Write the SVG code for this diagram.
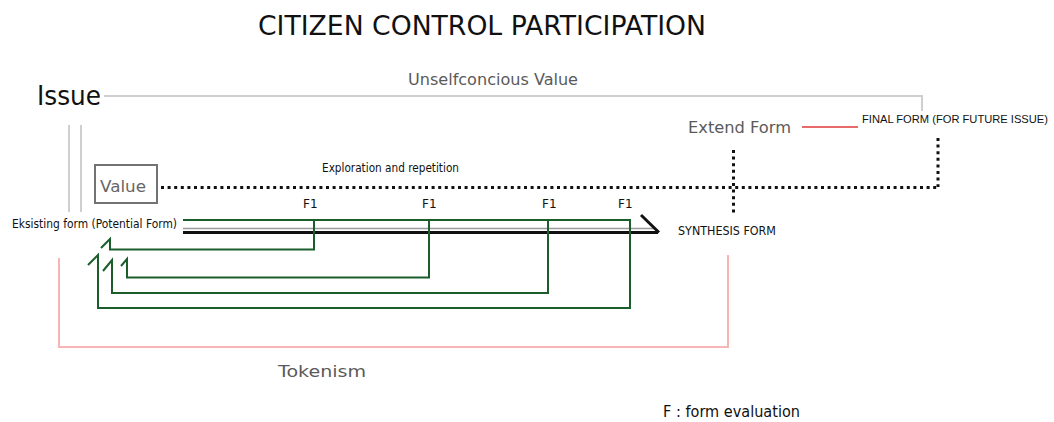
<svg xmlns="http://www.w3.org/2000/svg" width="1054" height="422" viewBox="0 0 1054 422">
  <style>
    text { font-family: "DejaVu Sans", "Liberation Sans", sans-serif; }
    .title { font-size: 27px; fill: #111; }
    .big { font-size: 27px; fill: #111; }
    .grey { font-size: 16px; fill: #5a5a5a; }
    .small { font-size: 12px; fill: #111; }
    .narrow { font-family: "Liberation Sans", "DejaVu Sans", sans-serif; font-size: 11.5px; fill: #111; }
    .note { font-size: 15px; fill: #111; }
    .frame { fill: none; stroke: #cfcfcf; stroke-width: 2; }
    .dots { fill: none; stroke: #111; stroke-width: 3; stroke-dasharray: 3 3.6; }
    .loop { fill: none; stroke: #1b5e2c; stroke-width: 2; }
    .red { fill: none; stroke: #e86a6a; stroke-width: 2; }
    .pink { fill: none; stroke: #f7b5b5; stroke-width: 2; }
  </style>

  <!-- heading -->
  <g id="title">
    <text class="title" x="258" y="35" textLength="448" lengthAdjust="spacingAndGlyphs">CITIZEN CONTROL PARTICIPATION</text>
  </g>

  <!-- issue with the unselfconscious value bracket -->
  <g id="issue">
    <text class="big" x="37" y="105" textLength="64" lengthAdjust="spacingAndGlyphs">Issue</text>
    <polyline class="frame" points="104,96 922,96 922,111"/>
    <text class="grey" x="408" y="85" textLength="170" lengthAdjust="spacingAndGlyphs">Unselfconcious Value</text>
    <line class="frame" x1="69" y1="125" x2="69" y2="212"/>
    <line class="frame" x1="81" y1="125" x2="81" y2="212"/>
  </g>

  <!-- value box -->
  <g id="value">
    <rect x="95" y="165" width="62" height="38" fill="#fff" stroke="#737373" stroke-width="2"/>
    <text x="100" y="192" font-size="15" fill="#666" textLength="46" lengthAdjust="spacingAndGlyphs">Value</text>
  </g>

  <g id="exploration">
    <text class="small" x="322" y="172" textLength="137" lengthAdjust="spacingAndGlyphs">Exploration and repetition</text>
  </g>

  <g id="extend-form">
    <text class="grey" x="688" y="133" textLength="103" lengthAdjust="spacingAndGlyphs">Extend Form</text>
  </g>

  <g id="final-form">
    <text class="narrow" x="862" y="123" textLength="186" lengthAdjust="spacingAndGlyphs">FINAL FORM (FOR FUTURE ISSUE)</text>
  </g>

  <g id="existing-form">
    <text class="small" x="12" y="228" textLength="165" lengthAdjust="spacingAndGlyphs">Eksisting form (Potential Form)</text>
  </g>

  <g id="synthesis-form">
    <text class="small" x="678" y="235" textLength="98" lengthAdjust="spacingAndGlyphs">SYNTHESIS FORM</text>
  </g>

  <g id="evaluations">
    <text class="small" x="303" y="208">F1</text>
    <text class="small" x="422" y="208">F1</text>
    <text class="small" x="542" y="208">F1</text>
    <text class="small" x="618" y="208">F1</text>
  </g>

  <g id="tokenism">
    <text class="grey" x="278" y="377" textLength="88" lengthAdjust="spacingAndGlyphs">Tokenism</text>
  </g>

  <g id="legend">
    <text class="note" x="663" y="417" textLength="137" lengthAdjust="spacingAndGlyphs">F : form evaluation</text>
  </g>

  <!-- connectors -->
  <g id="connectors">
    <!-- value exploration path -->
    <line class="dots" x1="161" y1="187.5" x2="938" y2="187.5"/>
    <line class="dots" x1="938" y1="138" x2="938" y2="187"/>
    <line class="dots" x1="733.5" y1="150" x2="733.5" y2="214"/>

    <!-- extend form to final form -->
    <line class="red" x1="802" y1="127" x2="858" y2="127"/>

    <!-- tokenism bracket -->
    <polyline class="pink" points="59,258 59,347 728,347 728,255"/>

    <!-- main process arrow -->
    <line x1="183" y1="228.5" x2="656" y2="228.5" stroke="#9a9a9a" stroke-width="1.5"/>
    <line x1="183" y1="232.5" x2="658" y2="232.5" stroke="#111" stroke-width="3"/>
    <line x1="641" y1="215" x2="659" y2="232.5" stroke="#111" stroke-width="3"/>

    <!-- evaluation feedback loops -->
    <line class="loop" x1="183" y1="220" x2="631" y2="220"/>
    <polyline class="loop" points="314,220 314,249.5 110,249.5 110,239 101,248"/>
    <polyline class="loop" points="429,220 429,277.5 127,277.5 127,259 121,266"/>
    <polyline class="loop" points="548,220 548,293 112,293 112,260 103,271"/>
    <polyline class="loop" points="630,220 630,308 98,308 98,255 88,265"/>
  </g>
</svg>
